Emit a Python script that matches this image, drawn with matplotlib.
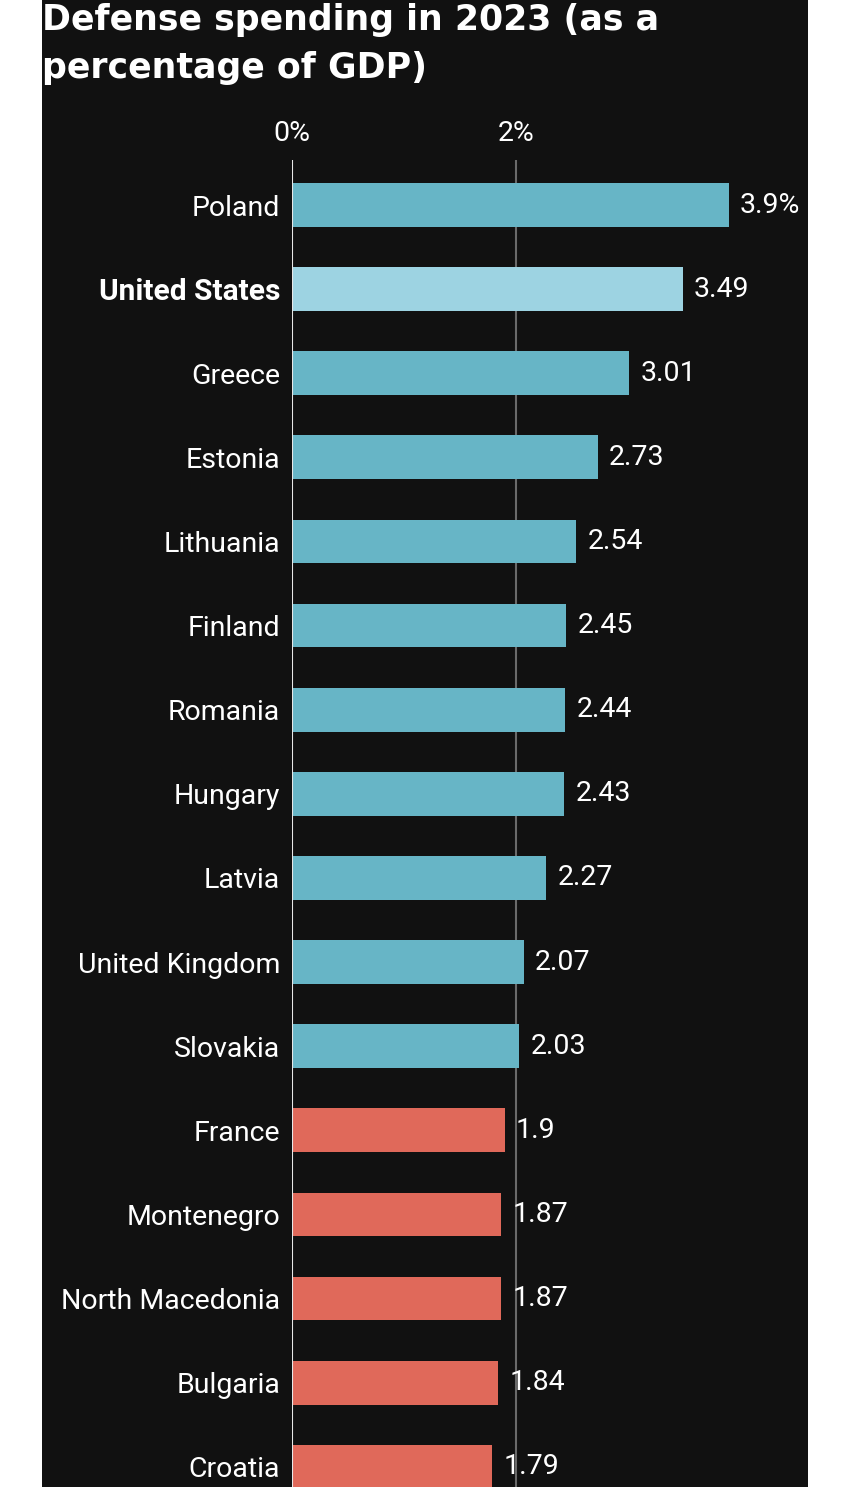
import matplotlib.pyplot as plt
from matplotlib.patches import Rectangle

countries = ["Poland", "United States", "Greece", "Estonia", "Lithuania", "Finland",
             "Romania", "Hungary", "Latvia", "United Kingdom", "Slovakia", "France",
             "Montenegro", "North Macedonia", "Bulgaria", "Croatia"]
spending = [3.9, 3.49, 3.01, 2.73, 2.54, 2.45, 2.44, 2.43, 2.27, 2.07, 2.03,
            1.9, 1.87, 1.87, 1.84, 1.79]
value_labels = ["3.9%", "3.49", "3.01", "2.73", "2.54", "2.45", "2.44", "2.43", "2.27",
                "2.07", "2.03", "1.9", "1.87", "1.87", "1.84", "1.79"]
xticks = [0, 2]
xtick_labels = ["0%", "2%"]
title_lines = ["Defense spending in 2023 (as a", "percentage of GDP)"]

plt.rcParams['font.family'] = ['Roboto', 'DejaVu Sans']

BG = '#111111'
BLUE = '#67b5c6'
US_BLUE = '#9dd3e2'
RED = '#e0695a'
FS = 20.5

W, H = 850, 1487
fig = plt.figure(figsize=(W / 100, H / 100), dpi=100, facecolor='white')
# dark panel
fig.patches.append(Rectangle((42 / W, 0), (808 - 42) / W, 1, transform=fig.transFigure,
                             facecolor=BG, edgecolor='none', zorder=-5))

ax_top = 160
ax = fig.add_axes([292 / W, 0, (806 - 292) / W, (H - ax_top) / H])
ax.set_facecolor('none')
ax.set_zorder(2)

colors = []
for c, v in zip(countries, spending):
    if c == "United States":
        colors.append(US_BLUE)
    elif v >= 2:
        colors.append(BLUE)
    else:
        colors.append(RED)

ypos = list(range(len(countries)))
ax.barh(ypos, spending, height=0.52, color=colors, zorder=2)

ax.axvline(2, color='#6a6a6a', lw=1.5, zorder=1)
ax.axvline(0, color='#e8e8e8', lw=1.5, zorder=3)

for y, v, lab in zip(ypos, spending, value_labels):
    ax.text(v + 0.1, y, lab, color='white', fontsize=FS, va='center', ha='left')

ax.set_xlim(0, 4.59)
ax.set_ylim(15.24, -0.535)

ax.set_yticks(ypos)
ax.set_yticklabels(countries, color='white', fontsize=FS)
for lbl in ax.get_yticklabels():
    if lbl.get_text() == "United States":
        lbl.set_fontweight('bold')
        lbl.set_fontsize(21.5)
ax.tick_params(axis='y', length=0, pad=8.5)

ax.xaxis.tick_top()
ax.set_xticks(xticks)
ax.set_xticklabels(xtick_labels, color='white', fontsize=FS)
ax.tick_params(axis='x', length=0, pad=9.5)

for s in ax.spines.values():
    s.set_visible(False)

for i, line in enumerate(title_lines):
    fig.text(42 / W, 1 - (30 + 48 * i) / H, line, color='white', fontsize=25,
             fontweight='bold', family='DejaVu Sans', va='baseline', ha='left')

fig.savefig('out.png', dpi=100, facecolor=fig.get_facecolor())
